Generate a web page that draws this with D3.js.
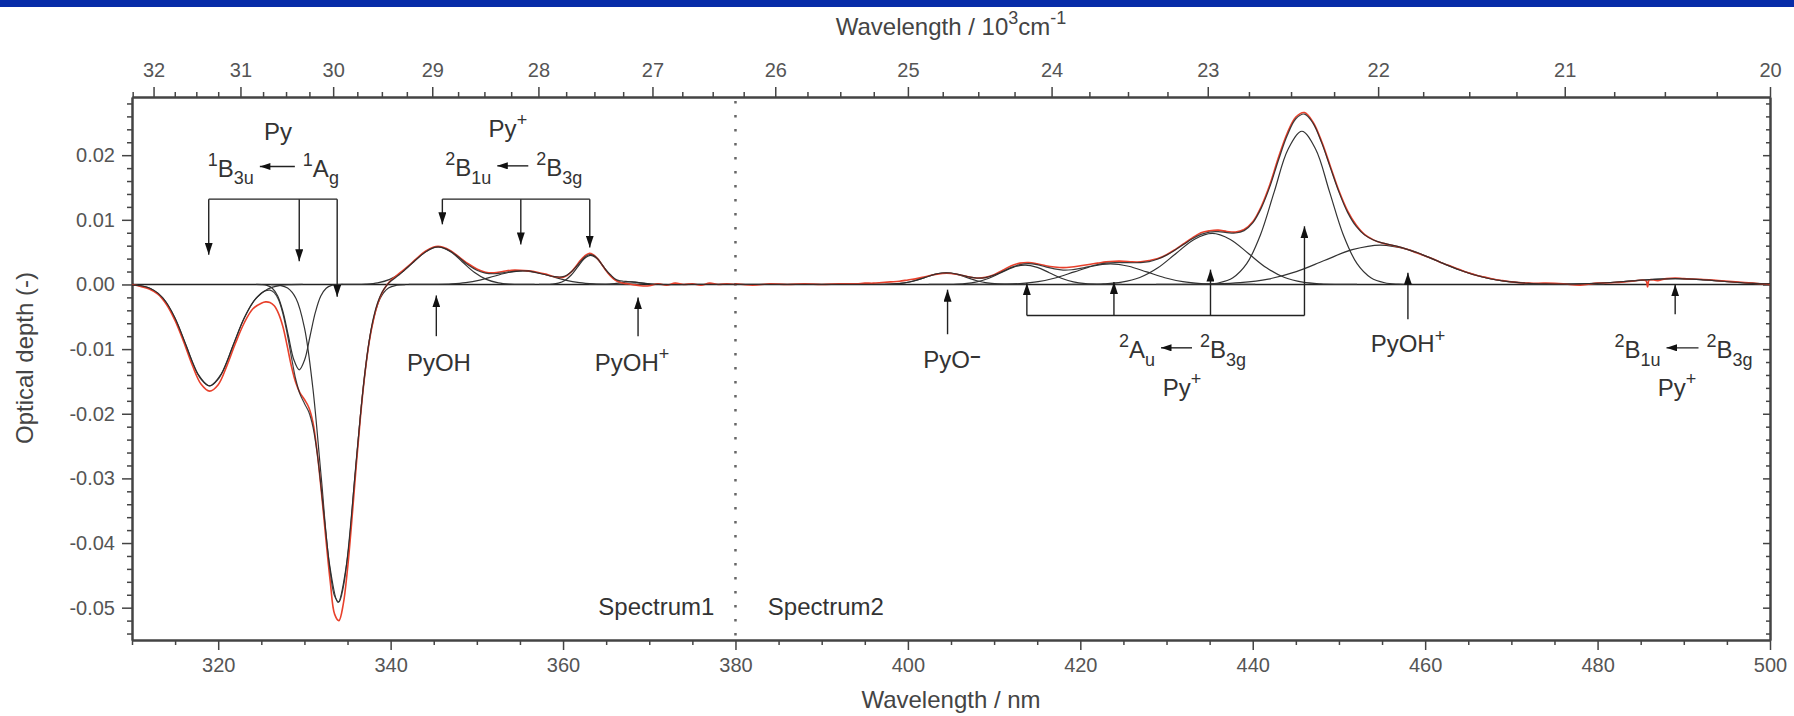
<!DOCTYPE html>
<html>
<head>
<meta charset="utf-8">
<script src="https://cdn.jsdelivr.net/npm/d3@7"></script>
<style>
	body { margin: 0; background: #fff; }
	svg { display: block; font-family: "Liberation Sans", Arial, sans-serif; }
	.axis path, .axis line { stroke: #444; }
	.axis text { fill: #555; font-size: 20px; font-family: "Liberation Sans", Arial, sans-serif; }
</style>
</head>
<body>
<div id="chart"></div>
<script>
// ---- tick labels ----
const nmTicks = [320, 340, 360, 380, 400, 420, 440, 460, 480, 500];
const waveTicks = [32, 31, 30, 29, 28, 27, 26, 25, 24, 23, 22, 21, 20];   // 10^3 cm-1
const depthTicks = [-0.05, -0.04, -0.03, -0.02, -0.01, 0, 0.01, 0.02];

// ---- measured spectra (red), [nm, optical depth] ----
const measured1 = [[310,0],[311,-0.0003],[312,-0.0007],[313,-0.0015],[314,-0.0031],[315,-0.0056],[316,-0.0089],[317,-0.0125],[318,-0.0154],[319,-0.0165],[320,-0.0155],[321,-0.0126],[322,-0.0091],[323,-0.006],[324,-0.0038],[325,-0.0029],[325.5,-0.0027],[326,-0.0028],[326.5,-0.0033],[327,-0.0045],[327.5,-0.0065],[328,-0.0095],[328.5,-0.0127],[329,-0.0152],[329.5,-0.0168],[330,-0.0178],[330.5,-0.019],[331,-0.0214],[331.5,-0.0262],[332,-0.0325],[332.5,-0.0395],[333,-0.046],[333.5,-0.051],[334,-0.052],[334.5,-0.0495],[335,-0.044],[335.5,-0.0365],[336,-0.0282],[336.5,-0.0205],[337,-0.014],[337.5,-0.009],[338,-0.0055],[338.5,-0.003],[339,-0.0013],[339.5,-0.0002],[340,0.0006],[341,0.0017],[342,0.0028],[343,0.004],[344,0.0051],[345,0.0058],[345.5,0.0059],[346,0.0058],[347,0.0052],[348,0.0042],[349,0.0032],[350,0.0024],[351,0.0019],[352,0.0018],[353,0.002],[354,0.0022],[355,0.0022],[356,0.0021],[357,0.0019],[358,0.0016],[359,0.0012],[360,0.0011],[360.5,0.0014],[361,0.002],[361.5,0.0028],[362,0.0037],[362.5,0.0044],[363,0.0048],[363.5,0.0046],[364,0.004],[364.5,0.0031],[365,0.0021],[365.5,0.0013],[366,0.0007],[366.5,0.0004],[367,0.0002],[367.5,0.0001],[368,0],[369,-0.0002],[370,-0.0002],[371,0.0001],[372,-0.0001],[373,0.0002],[374,0],[375,0.0001],[376,-0.0001],[377,0.0002],[378,0],[379,0.0001],[380,0]];
const measured2 = [[380,0.0001],[382,-0.0001],[384,0.0001],[386,0],[388,0.0001],[390,0],[392,0.0001],[394,0.0001],[395,0.0002],[396,0.0002],[397,0.0003],[398,0.0004],[399,0.0005],[400,0.0007],[401,0.0009],[402,0.0012],[403,0.0015],[404,0.0017],[405,0.0017],[406,0.0015],[407,0.0012],[408,0.001],[409,0.0011],[410,0.0015],[411,0.0022],[412,0.0029],[413,0.0033],[414,0.0034],[415,0.0032],[416,0.0029],[417,0.0027],[418,0.0026],[419,0.0027],[420,0.0029],[421,0.0031],[422,0.0033],[423,0.0035],[424,0.0036],[425,0.0036],[426,0.0035],[427,0.0035],[428,0.0037],[429,0.004],[430,0.0046],[431,0.0054],[432,0.0063],[433,0.0072],[434,0.008],[435,0.0083],[436,0.0084],[437,0.0082],[438,0.0081],[439,0.0085],[440,0.0097],[441,0.0121],[442,0.0155],[443,0.0197],[444,0.0234],[445,0.0259],[446,0.0266],[447,0.0251],[448,0.0221],[449,0.0183],[450,0.0145],[451,0.0114],[452,0.0092],[453,0.0077],[454,0.0069],[455,0.0064],[456,0.0061],[457,0.0058],[458,0.0054],[459,0.0049],[460,0.0044],[461,0.0039],[462,0.0033],[463,0.0028],[464,0.0023],[465,0.0018],[466,0.0014],[467,0.0011],[468,0.0008],[469,0.0006],[470,0.0004],[472,0.0002],[474,0.0002],[476,0.0001],[478,-0.0001],[480,0.0002],[482,0.0003],[484,0.0005],[485.6,0.0006],[485.8,-0.0004],[486,0.0007],[487,0.0006],[488,0.0009],[489,0.001],[490,0.0009],[492,0.0008],[494,0.0006],[496,0.0004],[498,0.0002],[500,0]];

// ---- fitted sum (black) ----
const fit1 = [[310,-0.0001],[311,-0.0002],[312,-0.00055],[313,-0.00134],[314,-0.00283],[315,-0.00524],[316,-0.00847],[317,-0.01194],[318,-0.01466],[319,-0.0157],[320,-0.01466],[321,-0.01194],[322,-0.00847],[323,-0.00524],[324,-0.0028],[325,-0.00136],[325.5,-0.00096],[326,-0.00088],[326.5,-0.00127],[327,-0.00238],[327.5,-0.0045],[328,-0.0076],[328.5,-0.0113],[329,-0.0147],[329.5,-0.017],[330,-0.0184],[330.5,-0.0197],[331,-0.0221],[331.5,-0.0263],[332,-0.0322],[332.5,-0.0386],[333,-0.0445],[333.5,-0.0482],[334,-0.0491],[334.5,-0.0469],[335,-0.042],[335.5,-0.0351],[336,-0.0274],[336.5,-0.0202],[337,-0.0138],[337.5,-0.0088],[338,-0.0052],[338.5,-0.0028],[339,-0.0012],[339.5,-0.0002],[340,0.0005],[341,0.0015],[342,0.0027],[343,0.0039],[344,0.005],[345,0.0057],[345.5,0.0058],[346,0.0057],[347,0.0051],[348,0.0041],[349,0.003],[350,0.0022],[351,0.00175],[352,0.00166],[353,0.0018],[354,0.002],[355,0.0021],[356,0.0021],[357,0.0018],[358,0.0015],[359,0.0012],[360,0.0012],[360.5,0.0015],[361,0.002],[361.5,0.0027],[362,0.0035],[362.5,0.0042],[363,0.0046],[363.5,0.0045],[364,0.004],[364.5,0.0031],[365,0.0022],[365.5,0.0015],[366,0.0009],[366.5,0.0006],[367,0.0005],[367.5,0.00046],[368,0.0004],[369,0.00024],[370,0.0001],[371,0],[375,0],[380,0]];
const fit2 = [[380,0],[385,0],[390,0],[395,0],[396,0],[397,0.00002],[398,0.00005],[399,0.00014],[400,0.00034],[401,0.00066],[402,0.00109],[403,0.00152],[404,0.00177],[405,0.00177],[406,0.00152],[407,0.00119],[408,0.00099],[409,0.00107],[410,0.00145],[411,0.00203],[412,0.00264],[413,0.00307],[414,0.00322],[415,0.00306],[416,0.00271],[417,0.00241],[418,0.00223],[419,0.00228],[420,0.0025],[421,0.00278],[422,0.00308],[423,0.00329],[424,0.00339],[425,0.00339],[426,0.00336],[427,0.00338],[428,0.00354],[429,0.00393],[430,0.00454],[431,0.00533],[432,0.00621],[433,0.00707],[434,0.00774],[435,0.00811],[436,0.00816],[437,0.00802],[438,0.00796],[439,0.00833],[440,0.00953],[441,0.01185],[442,0.01517],[443,0.01929],[444,0.02303],[445,0.02563],[446,0.02636],[447,0.02493],[448,0.0219],[449,0.01808],[450,0.01429],[451,0.01115],[452,0.00897],[453,0.00763],[454,0.00689],[455,0.00644],[456,0.00613],[457,0.00581],[458,0.0054],[459,0.00494],[460,0.00443],[461,0.00388],[462,0.0033],[463,0.00276],[464,0.00223],[465,0.00178],[466,0.00138],[467,0.00104],[468,0.00077],[469,0.00056],[470,0.00039],[472,0.00018],[474,0.00009],[476,0.00006],[478,0.00009],[480,0.00018],[482,0.00034],[484,0.00055],[486,0.00075],[488,0.00088],[489,0.0009],[490,0.00088],[492,0.00075],[494,0.00055],[496,0.00034],[498,0.00018],[500,0.0001]];

// ---- fit components (black, thin) ----
const band319 = [[310,-0.00006],[310.9,-0.00017],[312.25,-0.00069],[313.6,-0.00212],[314.95,-0.0051],[316.3,-0.00952],[317.65,-0.01386],[319,-0.0157],[320.35,-0.01386],[321.7,-0.00952],[323.05,-0.0051],[324.4,-0.00212],[325.75,-0.00069],[327.1,-0.00017],[328.45,-0.00003],[329.8,0]];
const band329 = [[324.4,0],[325.025,-0.00003],[325.65,-0.00015],[326.275,-0.00058],[326.9,-0.00179],[327.525,-0.00429],[328.15,-0.00801],[328.775,-0.01165],[329.4,-0.0132],[330.025,-0.01165],[330.65,-0.00801],[331.275,-0.00429],[331.9,-0.00179],[332.525,-0.00058],[333.15,-0.00015],[333.775,-0.00003],[334.4,0]];
const band334 = [[326.1,-0.00001],[327.075,-0.00011],[328.05,-0.00055],[329.025,-0.00216],[330,-0.00666],[330.975,-0.01598],[331.95,-0.02984],[332.925,-0.04342],[333.9,-0.0492],[334.875,-0.04342],[335.85,-0.02984],[336.825,-0.01598],[337.8,-0.00666],[338.775,-0.00216],[339.75,-0.00055],[340.725,-0.00011],[341.7,-0.00001]];
const band345 = [[334.3,0],[335.7,0.00001],[337.1,0.00006],[338.5,0.00025],[339.9,0.00078],[341.3,0.00188],[342.7,0.00352],[344.1,0.00512],[345.5,0.0058],[346.9,0.00512],[348.3,0.00352],[349.7,0.00188],[351.1,0.00078],[352.5,0.00025],[353.9,0.00006],[355.3,0.00001],[356.7,0]];
const band355 = [[342.1,0],[343.75,0.000005],[345.4,0.00002],[347.05,0.00009],[348.7,0.00028],[350.35,0.00068],[352,0.00127],[353.65,0.00185],[355.3,0.0021],[356.95,0.00185],[358.6,0.00127],[360.25,0.00068],[361.9,0.00028],[363.55,0.00009],[365.2,0.00002],[366.85,0.000005],[368.5,0]];
const band363 = [[357.2,0],[357.95,0.00001],[358.7,0.00005],[359.45,0.0002],[360.2,0.00061],[360.95,0.00146],[361.7,0.00273],[362.45,0.00397],[363.2,0.0045],[363.95,0.00397],[364.7,0.00273],[365.45,0.00146],[366.2,0.00061],[366.95,0.0002],[367.7,0.00005],[368.45,0.00001],[369.2,0]];
const band368 = [[363,0],[364.2,0.000004],[364.8,0.00002],[365.4,0.00005],[366,0.00013],[366.6,0.00024],[367.2,0.00035],[367.8,0.0004],[368.4,0.00035],[369,0.00024],[369.6,0.00013],[370.2,0.00005],[370.8,0.00002],[371.4,0]];
const band404 = [[394.8,0],[396,0.000004],[397.2,0.00002],[398.4,0.00008],[399.6,0.00024],[400.8,0.00058],[402,0.00109],[403.2,0.00159],[404.4,0.0018],[405.6,0.00159],[406.8,0.00109],[408,0.00058],[409.2,0.00024],[410.4,0.00008],[411.6,0.00002],[412.8,0.000004],[414,0]];
const band414 = [[402.4,0],[403.8,0.00001],[405.2,0.00003],[406.6,0.00013],[408,0.00041],[409.4,0.00097],[410.8,0.00182],[412.2,0.00265],[413.6,0.003],[415,0.00265],[416.4,0.00182],[417.8,0.00097],[419.2,0.00041],[420.6,0.00013],[422,0.00003],[423.4,0.00001],[424.8,0]];
const band424 = [[406.7,0],[408.8,0.00001],[410.9,0.00004],[413,0.00014],[415.1,0.00043],[417.2,0.00104],[419.3,0.00194],[421.4,0.00282],[423.5,0.0032],[425.6,0.00282],[427.7,0.00194],[429.8,0.00104],[431.9,0.00043],[434,0.00014],[436.1,0.00004],[438.2,0.00001],[440.3,0]];
const band435 = [[418.5,0],[420.6,0.00002],[422.7,0.00009],[424.8,0.00035],[426.9,0.00107],[429,0.00257],[431.1,0.00479],[433.2,0.00697],[435.3,0.0079],[437.4,0.00697],[439.5,0.00479],[441.6,0.00257],[443.7,0.00107],[445.8,0.00035],[447.9,0.00009],[450,0.00002],[452.1,0]];
const band446 = [[432.9,0.00001],[434.5,0.00005],[436.1,0.00026],[437.7,0.00104],[439.3,0.00321],[440.9,0.0077],[442.5,0.01437],[444.1,0.02092],[445.7,0.0237],[447.3,0.02092],[448.9,0.01437],[450.5,0.0077],[452.1,0.00321],[453.7,0.00104],[455.3,0.00026],[456.9,0.00005],[458.5,0.00001]];
const band455 = [[428.8,0],[432.05,0.00001],[435.3,0.00007],[438.55,0.00027],[441.8,0.00083],[445.05,0.00198],[448.3,0.0037],[451.55,0.00538],[454.8,0.0061],[458.05,0.00538],[461.3,0.0037],[464.55,0.00198],[467.8,0.00083],[471.05,0.00027],[474.3,0.00007],[477.55,0.00001],[480.8,0]];
const band489 = [[471.5,0],[474,0.00001],[476.5,0.00004],[479,0.00012],[481.5,0.00029],[484,0.00055],[486.5,0.00079],[489,0.0009],[491.5,0.00079],[494,0.00055],[496.5,0.00029],[499,0.00012],[500,0.00008]];

// ---- annotations (nm, optical depth) ----
const downBrackets = [
	{ nm: [318.9, 329.4, 333.8], top: 0.0132, tips: [0.0046, 0.0036, -0.0019] },
	{ nm: [346.0, 355.1, 363.1], top: 0.0132, tips: [0.0093, 0.0062, 0.0057] }
];
const upBracket = { nm: [413.8, 423.9, 435.1, 446.0], base: -0.0048, tips: [0.0002, 0.0004, 0.0023, 0.009] };
const upArrows = [
	{ nm: 345.3, from: -0.008, to: -0.0017 },
	{ nm: 368.7, from: -0.008, to: -0.002 },
	{ nm: 404.6, from: -0.0077, to: -0.0008 },
	{ nm: 458.0, from: -0.0054, to: 0.0018 },
	{ nm: 489.0, from: -0.0046, to: 0.0 }
];
const speciesLabels = [
	{ nm: 326.94, v: 0.0223, parts: [{ t: 'Py' }] },
	{ nm: 353.6, v: 0.0228, parts: [{ t: 'Py' }, { t: '+', s: 'sup' }] },
	{ nm: 345.6, v: -0.0134, parts: [{ t: 'PyOH' }] },
	{ nm: 368.0, v: -0.0134, parts: [{ t: 'PyOH' }, { t: '+', s: 'sup' }] },
	{ nm: 405.1, v: -0.0129, parts: [{ t: 'PyO' }, { t: '\u2212', s: 'mid' }] },
	{ nm: 431.8, v: -0.0172, parts: [{ t: 'Py' }, { t: '+', s: 'sup' }] },
	{ nm: 458.0, v: -0.0105, parts: [{ t: 'PyOH' }, { t: '+', s: 'sup' }] },
	{ nm: 489.2, v: -0.0173, parts: [{ t: 'Py' }, { t: '+', s: 'sup' }] }
];
const B3g = [{ t: '2', s: 'sup' }, { t: 'B' }, { t: '3g', s: 'sub' }];
const transitions = [
	{ nm: 326.86, v: 0.0167, len: 35, left: [{ t: '1', s: 'sup' }, { t: 'B' }, { t: '3u', s: 'sub' }], right: [{ t: '1', s: 'sup' }, { t: 'A' }, { t: 'g', s: 'sub' }] },
	{ nm: 354.17, v: 0.0168, len: 31, left: [{ t: '2', s: 'sup' }, { t: 'B' }, { t: '1u', s: 'sub' }], right: B3g },
	{ nm: 431.16, v: -0.01135, len: 31, left: [{ t: '2', s: 'sup' }, { t: 'A' }, { t: 'u', s: 'sub' }], right: B3g },
	{ nm: 489.85, v: -0.01135, len: 32, left: [{ t: '2', s: 'sup' }, { t: 'B' }, { t: '1u', s: 'sub' }], right: B3g }
];
const spectrumNames = [
	{ nm: 377.55, v: -0.0511, text: 'Spectrum1', anchor: 'end' },
	{ nm: 383.75, v: -0.0511, text: 'Spectrum2', anchor: 'start' }
];
const splitAt = 380;

const config = {
	width: 1794,
	height: 716,
	margin: { top: 97, right: 24, bottom: 76, left: 132 },
	red: '#e8412c',
	ink: '#2a2a2a',
	fs: 24
};

const x = d3.scaleLinear().domain([310, 500])
	.range([config.margin.left, config.width - config.margin.right]);
const y = d3.scaleLinear().domain([-0.055, 0.029])
	.range([config.height - config.margin.bottom, config.margin.top]);

const svg = d3.select('#chart').append('svg')
	.attr('width', config.width)
	.attr('height', config.height);

// blue strip on top
svg.append('rect').attr('x', 0).attr('y', 0).attr('width', config.width).attr('height', 7).attr('fill', '#072ca8');

const defs = svg.append('defs');
defs.append('marker').attr('id', 'head')
	.attr('viewBox', '0 0 12 8').attr('refX', 12).attr('refY', 4)
	.attr('markerWidth', 12).attr('markerHeight', 8)
	.attr('markerUnits', 'userSpaceOnUse').attr('orient', 'auto')
	.append('path').attr('d', 'M0,0L12,4L0,8z').attr('fill', '#111');
defs.append('marker').attr('id', 'headSmall')
	.attr('viewBox', '0 0 12 8').attr('refX', 12).attr('refY', 4)
	.attr('markerWidth', 11).attr('markerHeight', 7)
	.attr('markerUnits', 'userSpaceOnUse').attr('orient', 'auto')
	.append('path').attr('d', 'M0,0L12,4L0,8z').attr('fill', '#111');
defs.append('clipPath').attr('id', 'plot').append('rect')
	.attr('x', x.range()[0]).attr('y', y.range()[1])
	.attr('width', x.range()[1] - x.range()[0]).attr('height', y.range()[0] - y.range()[1]);

// ---- axes ----
const x0 = x.range()[0], x1 = x.range()[1], yTop = y.range()[1], yBot = y.range()[0];
const minorNm = d3.range(310, 501, 5).filter(d => !nmTicks.includes(d));
const minorWave = d3.range(80, 130).map(i => i / 4).filter(k => k % 1 !== 0 && 1e4 / k >= 310);
const minorDepth = d3.range(-27, 15).map(i => i * 0.002).filter(d => Math.abs(Math.round(d * 100) - d * 100) > 1e-6);

function axisGroup(gen, tx, ty) {
	const g = svg.append('g').attr('class', 'axis').attr('transform', `translate(${tx},${ty})`).call(gen);
	g.select('.domain').attr('stroke-width', 2).attr('stroke', '#555');
	g.selectAll('.tick line').attr('stroke-width', 1.5);
	return g;
}

axisGroup(d3.axisBottom(x).tickValues(minorNm).tickSize(5).tickSizeOuter(0).tickFormat(''), 0, yBot);
axisGroup(d3.axisBottom(x).tickValues(nmTicks).tickSize(10).tickPadding(8).tickSizeOuter(0).tickFormat(d3.format('d')), 0, yBot);
axisGroup(d3.axisTop(x).tickValues(minorWave.map(k => 1e4 / k)).tickSize(5).tickSizeOuter(0).tickFormat(''), 0, yTop);
axisGroup(d3.axisTop(x).tickValues(waveTicks.map(k => 1e4 / k)).tickSize(10).tickPadding(10).tickSizeOuter(0)
	.tickFormat(d => Math.round(1e4 / d)), 0, yTop);
axisGroup(d3.axisLeft(y).tickValues(minorDepth).tickSize(5).tickSizeOuter(0).tickFormat(''), x0, 0);
axisGroup(d3.axisLeft(y).tickValues(depthTicks).tickSize(10).tickPadding(7).tickSizeOuter(0)
	.tickFormat(d => d.toFixed(2)), x0, 0);
axisGroup(d3.axisLeft(y).tickValues(minorDepth).tickSize(4).tickSizeOuter(0).tickFormat(''), x1, 0);
axisGroup(d3.axisLeft(y).tickValues(depthTicks).tickSize(7).tickSizeOuter(0).tickFormat(''), x1, 0);

// axis titles
svg.append('text').attr('x', (x0 + x1) / 2).attr('y', 708).attr('text-anchor', 'middle')
	.attr('font-size', 24).attr('fill', '#444').text('Wavelength / nm');
const topTitle = svg.append('text').attr('x', (x0 + x1) / 2).attr('y', 35).attr('text-anchor', 'middle')
	.attr('font-size', 24).attr('fill', '#444');
rich(topTitle, [{ t: 'Wavelength / 10' }, { t: '3', s: 'sup' }, { t: 'cm' }, { t: '-1', s: 'sup' }], 24);
svg.append('text').attr('transform', 'translate(33,358) rotate(-90)')
	.attr('text-anchor', 'middle').attr('font-size', 24).attr('fill', '#444').text('Optical depth (-)');

// ---- split line ----
svg.append('line').attr('x1', x(splitAt)).attr('x2', x(splitAt)).attr('y1', yTop + 4).attr('y2', yBot)
	.attr('stroke', '#666').attr('stroke-width', 2.5).attr('stroke-dasharray', '2.5,11.5');

// ---- curves ----
const plot = svg.append('g').attr('clip-path', 'url(#plot)');
const line = d3.line().x(d => x(d[0])).y(d => y(d[1])).curve(d3.curveCatmullRom.alpha(0.5));

plot.append('line').attr('x1', x0).attr('x2', x1).attr('y1', y(0)).attr('y2', y(0))
	.attr('stroke', '#222').attr('stroke-width', 1.6);

const bands = [band319, band329, band334, band345, band355, band363, band368,
	band404, band414, band424, band435, band446, band455, band489];
plot.selectAll('.band').data(bands).enter().append('path')
	.attr('class', 'band').attr('d', line)
	.attr('fill', 'none').attr('stroke', '#333').attr('stroke-width', 1.2);

plot.selectAll('.measured').data([measured1, measured2]).enter().append('path')
	.attr('class', 'measured').attr('d', line)
	.attr('fill', 'none').attr('stroke', config.red).attr('stroke-width', 1.6);

plot.selectAll('.fit').data([fit1, fit2]).enter().append('path')
	.attr('class', 'fit').attr('d', line)
	.attr('fill', 'none').attr('stroke', config.ink).attr('stroke-width', 1.2).attr('stroke-opacity', 0.9);

// ---- annotations ----
const ann = svg.append('g').attr('stroke', '#222').attr('stroke-width', 1.4).attr('fill', 'none');

downBrackets.forEach(b => {
	ann.append('line').attr('x1', x(b.nm[0])).attr('x2', x(b.nm[b.nm.length - 1]))
		.attr('y1', y(b.top)).attr('y2', y(b.top));
	b.nm.forEach((n, i) => {
		ann.append('line').attr('x1', x(n)).attr('x2', x(n))
			.attr('y1', y(b.top)).attr('y2', y(b.tips[i])).attr('marker-end', 'url(#head)');
	});
});

ann.append('line').attr('x1', x(upBracket.nm[0])).attr('x2', x(upBracket.nm[upBracket.nm.length - 1]))
	.attr('y1', y(upBracket.base)).attr('y2', y(upBracket.base));
upBracket.nm.forEach((n, i) => {
	ann.append('line').attr('x1', x(n)).attr('x2', x(n))
		.attr('y1', y(upBracket.base)).attr('y2', y(upBracket.tips[i])).attr('marker-end', 'url(#head)');
});

upArrows.forEach(a => {
	ann.append('line').attr('x1', x(a.nm)).attr('x2', x(a.nm))
		.attr('y1', y(a.from)).attr('y2', y(a.to)).attr('marker-end', 'url(#head)');
});

function rich(sel, parts, fs) {
	let off = 0;
	parts.forEach(p => {
		const target = p.s === 'sup' ? -0.45 * fs : p.s === 'sub' ? 0.32 * fs : p.s === 'mid' ? -0.2 * fs : 0;
		sel.append('tspan')
			.attr('dy', target - off)
			.attr('font-size', p.s ? fs * 0.75 : fs)
			.attr('font-weight', p.s === 'mid' ? 'bold' : null)
			.text(p.t);
		off = target;
	});
	return sel;
}

const labels = svg.append('g').attr('fill', '#333').attr('font-size', config.fs);

speciesLabels.forEach(l => {
	const t = labels.append('text').attr('x', x(l.nm)).attr('y', y(l.v)).attr('text-anchor', 'middle');
	rich(t, l.parts, config.fs);
});

transitions.forEach(tr => {
	const cx = x(tr.nm), by = y(tr.v), ay = by - 10;
	ann.append('line').attr('x1', cx + tr.len / 2).attr('x2', cx - tr.len / 2)
		.attr('y1', ay).attr('y2', ay).attr('marker-end', 'url(#headSmall)');
	rich(labels.append('text').attr('x', cx - tr.len / 2 - 6).attr('y', by).attr('text-anchor', 'end'), tr.left, config.fs);
	rich(labels.append('text').attr('x', cx + tr.len / 2 + 8).attr('y', by).attr('text-anchor', 'start'), tr.right, config.fs);
});

spectrumNames.forEach(s => {
	labels.append('text').attr('x', x(s.nm)).attr('y', y(s.v)).attr('text-anchor', s.anchor).text(s.text);
});
</script>
</body>
</html>
